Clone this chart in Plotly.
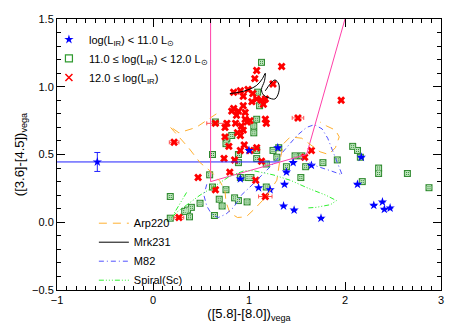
import plotly.graph_objects as go

# sources with log(L_IR) < 11.0
lo_x = [-0.58, 1.46, 1.65, 1.39, 0.91, 1.10, 1.22, 1.37, 1.36, 1.47, 1.75, 2.13, 2.30, 2.39, 2.41, 2.47, 1.00, 1.30, 2.17]
lo_y = [0.445, 0.44, 0.42, 0.37, 0.32, 0.255, 0.24, 0.28, 0.12, 0.09, 0.03, 0.28, 0.125, 0.15, 0.095, 0.105, 0.53, 0.55, 0.48]
lo_xerr = [1.9] + [0.0] * 18
lo_yerr = [0.07] + [0.0] * 18

# 11.0 <= log(L_IR) < 12.0
mid_x = [1.13, 1.09, 1.11, 1.08, 1.05, 1.05, 0.65, 0.77, 0.82, 0.76, 0.62, 0.89, 0.89, 1.08, 1.08,
         1.25, 1.31, 1.29, 1.39, 1.48, 1.55, 1.59, 1.77, 1.92, 2.08, 2.13, 2.16, 2.35, 2.35, 2.65,
         2.875, 2.18, 1.54, 1.18, 1.02, 0.91, 0.99, 0.85, 0.89, 0.98, 0.59, 0.62, 0.76, 0.18, 0.69,
         0.72, 0.49, 0.40, 0.36, 0.33, 0.38, 0.18, 0.64, 1.18]
mid_y = [1.18, 0.96, 0.86, 0.76, 0.71, 0.66, 0.74, 0.62, 0.64, 0.58, 0.50, 0.50, 0.44, 0.47, 0.53,
         0.53, 0.55, 0.48, 0.41, 0.49, 0.49, 0.41, 0.44, 0.46, 0.56, 0.53, 0.48, 0.40, 0.36, 0.36,
         0.255, 0.30, 0.33, 0.26, 0.33, 0.33, 0.33, 0.18, 0.16, 0.15, 0.35, 0.26, 0.24, 0.19, 0.17,
         0.12, 0.14, 0.11, 0.09, 0.08, 0.04, 0.03, 0.05, 0.43]

# 12.0 <= log(L_IR)
hi_x = [1.34, 1.08, 1.06, 0.84, 0.91, 0.99, 0.94, 1.04, 1.08, 1.13, 1.17, 1.03, 0.94, 1.15, 1.25,
        0.84, 0.89, 0.96, 0.82, 0.87, 0.96, 1.01, 1.17, 1.18, 0.98, 0.65, 0.77, 0.86, 0.92, 0.75,
        0.94, 0.91, 0.75, 0.88, 0.79, 0.95, 0.91, 1.01, 1.08, 0.22, 1.51, 1.96, 0.74, 0.85, 1.13,
        1.58, 1.65, 0.80, 0.47, 0.65, 0.27, 1.07, 1.17]
hi_y = [1.15, 1.12, 1.06, 0.96, 0.97, 0.98, 0.93, 0.95, 0.91, 0.90, 0.91, 0.89, 0.86, 0.87, 1.02,
        0.84, 0.82, 0.81, 0.82, 0.79, 0.76, 0.75, 0.76, 0.73, 0.74, 0.73, 0.73, 0.73, 0.71, 0.70,
        0.68, 0.64, 0.63, 0.66, 0.56, 0.57, 0.53, 0.53, 0.55, 0.59, 0.77, 0.90, 0.47, 0.46, 0.45,
        0.48, 0.53, 0.37, 0.33, 0.24, 0.035, 0.31, 0.19]
hi_xerr = [0.02] * 53
for i, e in [(25, 0.09), (39, 0.05), (40, 0.06), (50, 0.05), (52, 0.07)]:
    hi_xerr[i] = e

# template tracks
arp_x = [0.66, 0.45, 0.27, 0.17, 0.22, 0.37, 0.49, 0.61, 0.70, 0.75, 0.76, 0.80, 0.88, 0.97, 1.06,
         1.18, 1.29, 1.32, 1.36, 1.43, 1.55, 1.64, 1.74, 1.83, 1.90, 1.94, 1.90, 1.81, 1.74]
arp_y = [0.80, 0.70, 0.66, 0.71, 0.67, 0.55, 0.44, 0.37, 0.30, 0.23, 0.15, 0.07, 0.035, 0.04, 0.10,
         0.19, 0.31, 0.45, 0.58, 0.63, 0.62, 0.57, 0.52, 0.50, 0.55, 0.63, 0.68, 0.71, 0.74]
mrk_x = [0.80, 0.90, 1.00, 1.08, 1.14, 1.17, 1.16, 1.13, 1.15, 1.20, 1.27, 1.31, 1.31, 1.27, 1.22, 1.17]
mrk_y = [0.95, 0.96, 0.98, 1.01, 1.06, 1.10, 1.04, 0.98, 0.94, 0.92, 0.91, 0.96, 1.02, 1.05, 1.02, 0.97]
m82_x = [0.56, 0.53, 0.56, 0.61, 0.68, 0.76, 0.84, 0.92, 1.01, 1.11, 1.25, 1.39, 1.50, 1.60, 1.68,
         1.76, 1.82, 1.87, 1.92, 1.97, 1.85, 1.72, 1.62, 1.55]
m82_y = [0.28, 0.20, 0.12, 0.06, 0.035, 0.06, 0.11, 0.20, 0.26, 0.33, 0.43, 0.55, 0.64, 0.70, 0.72,
         0.69, 0.62, 0.53, 0.44, 0.35, 0.38, 0.41, 0.44, 0.47]
sc_x = [0.35, 0.27, 0.19, 0.24, 0.35, 0.49, 0.65, 0.80, 0.95, 1.05, 1.25, 1.43, 1.62, 1.80, 1.91,
        1.85, 1.70, 1.60]
sc_y = [0.22, 0.12, 0.03, 0.07, 0.13, 0.20, 0.27, 0.34, 0.38, 0.38, 0.35, 0.31, 0.25, 0.20, 0.16,
        0.13, 0.11, 0.105]

# Stern et al. AGN wedge
wedge_x = [0.6, 0.6, 1.6, 2.0]
wedge_y = [1.5, 0.3, 0.5, 1.5]

LEG_LO = "log(L<sub>IR</sub>) < 11.0 L<sub>⊙</sub>"
LEG_MID = "11.0 ≤ log(L<sub>IR</sub>) < 12.0 L<sub>⊙</sub>"
LEG_HI = "12.0 ≤ log(L<sub>IR</sub>)"

fig = go.Figure()

fig.add_trace(go.Scatter(
    x=mid_x, y=mid_y, mode="markers", showlegend=False,
    marker=dict(symbol="square", size=7, color="#2f8a2f", line=dict(width=0))))
fig.add_trace(go.Scatter(
    x=mid_x, y=mid_y, mode="markers", showlegend=False,
    marker=dict(symbol="square-cross-open", size=4, color="#c0e6c0", line=dict(width=1, color="#c0e6c0"))))

fig.add_trace(go.Scatter(
    x=hi_x, y=hi_y, mode="markers", showlegend=False,
    error_x=dict(type="data", array=hi_xerr, color="#ff5050", thickness=1, width=2),
    marker=dict(symbol="x", size=7, color="#ff0000", line=dict(width=0))))

fig.add_trace(go.Scatter(
    x=lo_x, y=lo_y, mode="markers", showlegend=False,
    error_x=dict(type="data", array=lo_xerr, color="#2020ff", thickness=1, width=0),
    error_y=dict(type="data", array=lo_yerr, color="#2020ff", thickness=1, width=3),
    marker=dict(symbol="star", size=7, color="#0000ff", line=dict(width=0))))

# wedge
fig.add_trace(go.Scatter(x=wedge_x, y=wedge_y, mode="lines", showlegend=False,
                         line=dict(color="#ff40a8", width=1)))

# template tracks
fig.add_trace(go.Scatter(x=arp_x, y=arp_y, mode="lines", name="Arp220", legend="legend2",
                         line=dict(color="#ffb030", width=1, dash="8px,6px")))
fig.add_trace(go.Scatter(x=mrk_x, y=mrk_y, mode="lines", name="Mrk231", legend="legend2",
                         line=dict(color="#000000", width=1), line_shape="spline"))
fig.add_trace(go.Scatter(x=m82_x, y=m82_y, mode="lines", name="M82", legend="legend2",
                         line=dict(color="#5050ff", width=1, dash="5px,3px,1px,3px")))
fig.add_trace(go.Scatter(x=sc_x, y=sc_y, mode="lines", name="Spiral(Sc)", legend="legend2",
                         line=dict(color="#30f030", width=1, dash="5px,2px,1px,2px,1px,2px,1px,2px")))

# legend entries for the luminosity classes
fig.add_trace(go.Scatter(x=[None], y=[None], mode="markers", name=LEG_LO,
                         marker=dict(symbol="star", size=7, color="#0000ff")))
fig.add_trace(go.Scatter(x=[None], y=[None], mode="markers", name=LEG_MID,
                         marker=dict(symbol="square-open", size=7, color="#2f9a2f", line=dict(width=1.2))))
fig.add_trace(go.Scatter(x=[None], y=[None], mode="markers", name=LEG_HI,
                         marker=dict(symbol="x-thin-open", size=7, color="#ff0000", line=dict(width=1.5))))

axis_style = dict(showline=True, linecolor="#000000", linewidth=1, mirror="allticks", automargin=False,
                  ticks="inside", ticklen=8, tickcolor="#000000", showgrid=False, zeroline=False,
                  minor=dict(dtick=0.1, ticks="inside", ticklen=4, tickcolor="#000000", showgrid=False))

# page body has an 8px margin, so the figure is 8px smaller than the window
fig.update_layout(
    width=450, height=319,
    margin=dict(l=49, r=17, t=11, b=37),
    plot_bgcolor="white", paper_bgcolor="white",
    font=dict(family="Liberation Sans, Arial, sans-serif", size=11, color="#000000"),
    xaxis=dict(range=[-1, 3], dtick=1, title=dict(text="([5.8]-[8.0])<sub>vega</sub>", standoff=2), **axis_style),
    yaxis=dict(range=[-0.5, 1.5], dtick=0.5, tickformat=".1f",
               title=dict(text="([3.6]-[4.5])<sub>vega</sub>", standoff=4), **axis_style),
    legend=dict(x=-0.021, y=0.978, xanchor="left", yanchor="top", bgcolor="rgba(0,0,0,0)",
                font=dict(size=11), tracegroupgap=0, itemwidth=30),
    legend2=dict(x=0.096, y=0.3, xanchor="left", yanchor="top", bgcolor="rgba(0,0,0,0)",
                 font=dict(size=11), tracegroupgap=0),
)

fig.write_html("out.html")
